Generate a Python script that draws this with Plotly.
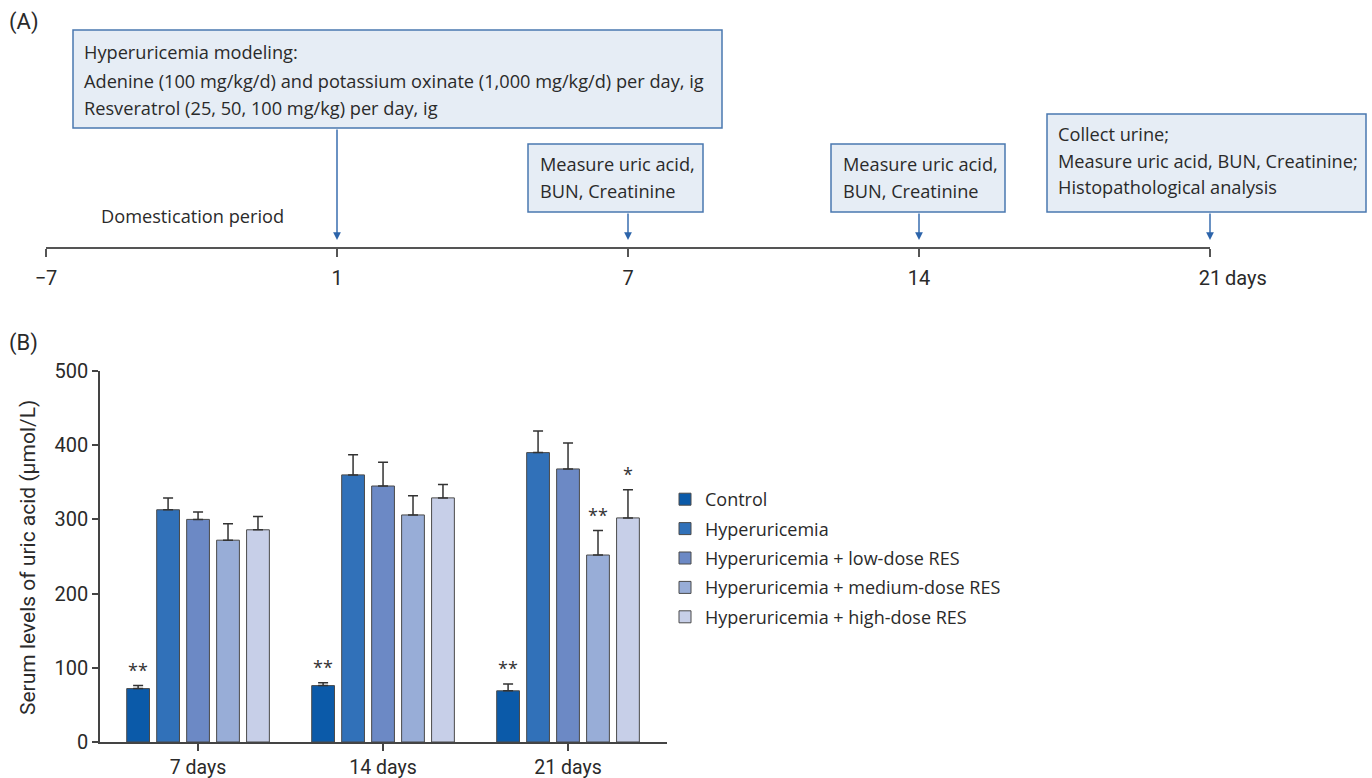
import plotly.graph_objects as go

W, H = 1372, 778

# ---------------- data ----------------
days = ["7 days", "14 days", "21 days"]
groups = ["Control", "Hyperuricemia", "Hyperuricemia + low-dose RES",
          "Hyperuricemia + medium-dose RES", "Hyperuricemia + high-dose RES"]
control = [72, 76, 69]
hyper = [313, 360, 390]
low_dose = [300, 345, 368]
medium_dose = [272, 306, 252]
high_dose = [286, 329, 302]
control_err = [4, 4, 9]
hyper_err = [16, 27, 29]
low_err = [10, 32, 35]
medium_err = [22, 26, 33]
high_err = [18, 18, 38]
stars_control = ["**", "**", "**"]
stars_medium = ["", "", "**"]
stars_high = ["", "", "*"]

timeline_labels = ["\u22127", "1", "7", "14", "21"]

colors = ["#0b5aa9", "#3171b9", "#6c89c5", "#98add7", "#c7cfe8"]

values = [control, hyper, low_dose, medium_dose, high_dose]
errors = [control_err, hyper_err, low_err, medium_err, high_err]
stars = [stars_control, ["", "", ""], ["", "", ""], stars_medium, stars_high]


def px(x):
    return x / W


def py(y):
    return 1 - y / H


fig = go.Figure()

TEXT_FONT = "Open Sans"
TICK_FONT = "Roboto"
TXT = "#2a2a2a"

for i, g in enumerate(groups):
    fig.add_trace(go.Bar(
        x=days, y=values[i], name=g,
        marker=dict(color=colors[i], line=dict(color="#4a4a4a", width=1)),
        error_y=dict(type="data", array=errors[i], arrayminus=[0, 0, 0], symmetric=False,
                     color="#333333", thickness=1.5, width=5),
        legendgroup=g,
        xaxis="x", yaxis="y",
    ))

annotations = []
bar_spacing_px = 30
for i in range(len(groups)):
    for j, d in enumerate(days):
        if stars[i][j]:
            annotations.append(dict(
                x=d, y=values[i][j] + errors[i][j], xref="x", yref="y",
                text=stars[i][j], showarrow=False, yanchor="bottom",
                xshift=(i - 2) * bar_spacing_px, yshift=2,
                font=dict(family=TEXT_FONT, size=18, color="#333333")))

# timeline anchor trace (invisible) on x2
fig.add_trace(go.Scatter(x=[0, 4], y=[0, 0], mode="markers", marker=dict(opacity=0),
                         showlegend=False, hoverinfo="skip", xaxis="x2", yaxis="y2"))

# ---------------- panel A boxes ----------------
BOX_FILL = "#e6edf5"
BOX_LINE = "#4a78b0"
shapes = []
boxes = [
    (73, 30, 722, 128, 82, [52, 81, 108],
     ["Hyperuricemia modeling:",
      "Adenine (100 mg/kg/d) and potassium oxinate (1,000 mg/kg/d) per day, ig",
      "Resveratrol (25, 50, 100 mg/kg) per day, ig"]),
    (528, 144, 703, 212, 538, [164, 191], ["Measure uric acid,", "BUN, Creatinine"]),
    (831, 144, 1005, 212, 841, [164, 191], ["Measure uric acid,", "BUN, Creatinine"]),
    (1047, 114, 1366, 212, 1056, [134, 161, 187],
     ["Collect urine;", "Measure uric acid, BUN, Creatinine;", "Histopathological analysis"]),
]
for (x0, y0, x1, y1, tx, lys, lines) in boxes:
    shapes.append(dict(type="rect", xref="paper", yref="paper",
                       x0=px(x0), x1=px(x1), y0=py(y1), y1=py(y0),
                       fillcolor=BOX_FILL, line=dict(color=BOX_LINE, width=1.5), layer="below"))
    for ly, t in zip(lys, lines):
        annotations.append(dict(x=px(tx), y=py(ly), xref="paper", yref="paper", text=t,
                                showarrow=False, xanchor="left", yanchor="middle",
                                font=dict(family=TEXT_FONT, size=18.2, color=TXT)))

# arrows from boxes to timeline events
arrow_starts = [128, 212, 212, 212]
for k, ys in enumerate(arrow_starts):
    annotations.append(dict(x=k + 1, y=py(240), xref="x2", yref="paper", ax=0, ay=-(240 - ys),
                            axref="pixel", ayref="pixel", text="", showarrow=True,
                            arrowhead=2, arrowsize=1.1, arrowwidth=1.4, arrowcolor="#2c64aa"))

annotations += [
    dict(x=px(99), y=py(216), xref="paper", yref="paper", text="Domestication period",
         showarrow=False, xanchor="left", yanchor="middle",
         font=dict(family=TEXT_FONT, size=18.2, color=TXT)),
    dict(x=4, y=py(278), xref="x2", yref="paper", text="days", showarrow=False,
         xanchor="left", yanchor="middle", xshift=13,
         font=dict(family=TICK_FONT, size=20, color=TXT)),
    dict(x=px(7), y=py(22), xref="paper", yref="paper", text="(A)", showarrow=False,
         xanchor="left", yanchor="middle", font=dict(family=TICK_FONT, size=22, color=TXT)),
    dict(x=px(7), y=py(343), xref="paper", yref="paper", text="(B)", showarrow=False,
         xanchor="left", yanchor="middle", font=dict(family=TICK_FONT, size=22, color=TXT)),
    dict(x=px(28), y=py(558), xref="paper", yref="paper",
         text="Serum levels of uric acid (\u03bcmol/L)", showarrow=False, textangle=-90,
         xanchor="center", yanchor="middle", font=dict(family=TICK_FONT, size=21, color=TXT)),
]

fig.update_layout(
    width=W, height=H,
    margin=dict(l=0, r=0, t=0, b=0, autoexpand=False),
    paper_bgcolor="white", plot_bgcolor="white",
    barmode="group", bargap=0.19, bargroupgap=0.24,
    showlegend=True,
    legend=dict(x=px(665), y=py(481), xanchor="left", yanchor="top",
                font=dict(family=TEXT_FONT, size=18, color=TXT),
                tracegroupgap=3, itemwidth=30, bgcolor="rgba(0,0,0,0)"),
    xaxis=dict(domain=[px(100), px(667)], range=[-0.53, 2.535], anchor="y",
               showline=True, linecolor="#444444", linewidth=1.5,
               ticks="outside", ticklen=7, tickcolor="#444444", tickwidth=1.5,
               ticklabelstandoff=0,
               tickfont=dict(family=TICK_FONT, size=19.5, color=TXT),
               showgrid=False, zeroline=False, fixedrange=True, automargin=False),
    yaxis=dict(domain=[py(742), py(371)], range=[0, 500], anchor="x",
               tickvals=[0, 100, 200, 300, 400, 500],
               showline=True, linecolor="#444444", linewidth=1.5,
               ticks="outside", ticklen=6, tickcolor="#444444", tickwidth=1.5,
               tickfont=dict(family=TICK_FONT, size=20, color=TXT),
               showgrid=False, zeroline=False, automargin=False),
    xaxis2=dict(domain=[px(46), px(1210)], range=[0, 4], anchor="y2",
                tickvals=[0, 1, 2, 3, 4], ticktext=timeline_labels,
                showline=True, linecolor="#555555", linewidth=2,
                ticks="outside", ticklen=8, tickcolor="#555555", tickwidth=1.5,
                ticklabelstandoff=4,
                tickfont=dict(family=TICK_FONT, size=20, color=TXT),
                showgrid=False, zeroline=False, automargin=False),
    yaxis2=dict(domain=[py(247), 1.0], range=[0, 1], anchor="x2", visible=False),
    shapes=shapes,
    annotations=annotations,
)

fig.write_html("out.html", config={"displayModeBar": False},
               post_script="document.body.style.margin='0';document.body.style.overflow='hidden';")
